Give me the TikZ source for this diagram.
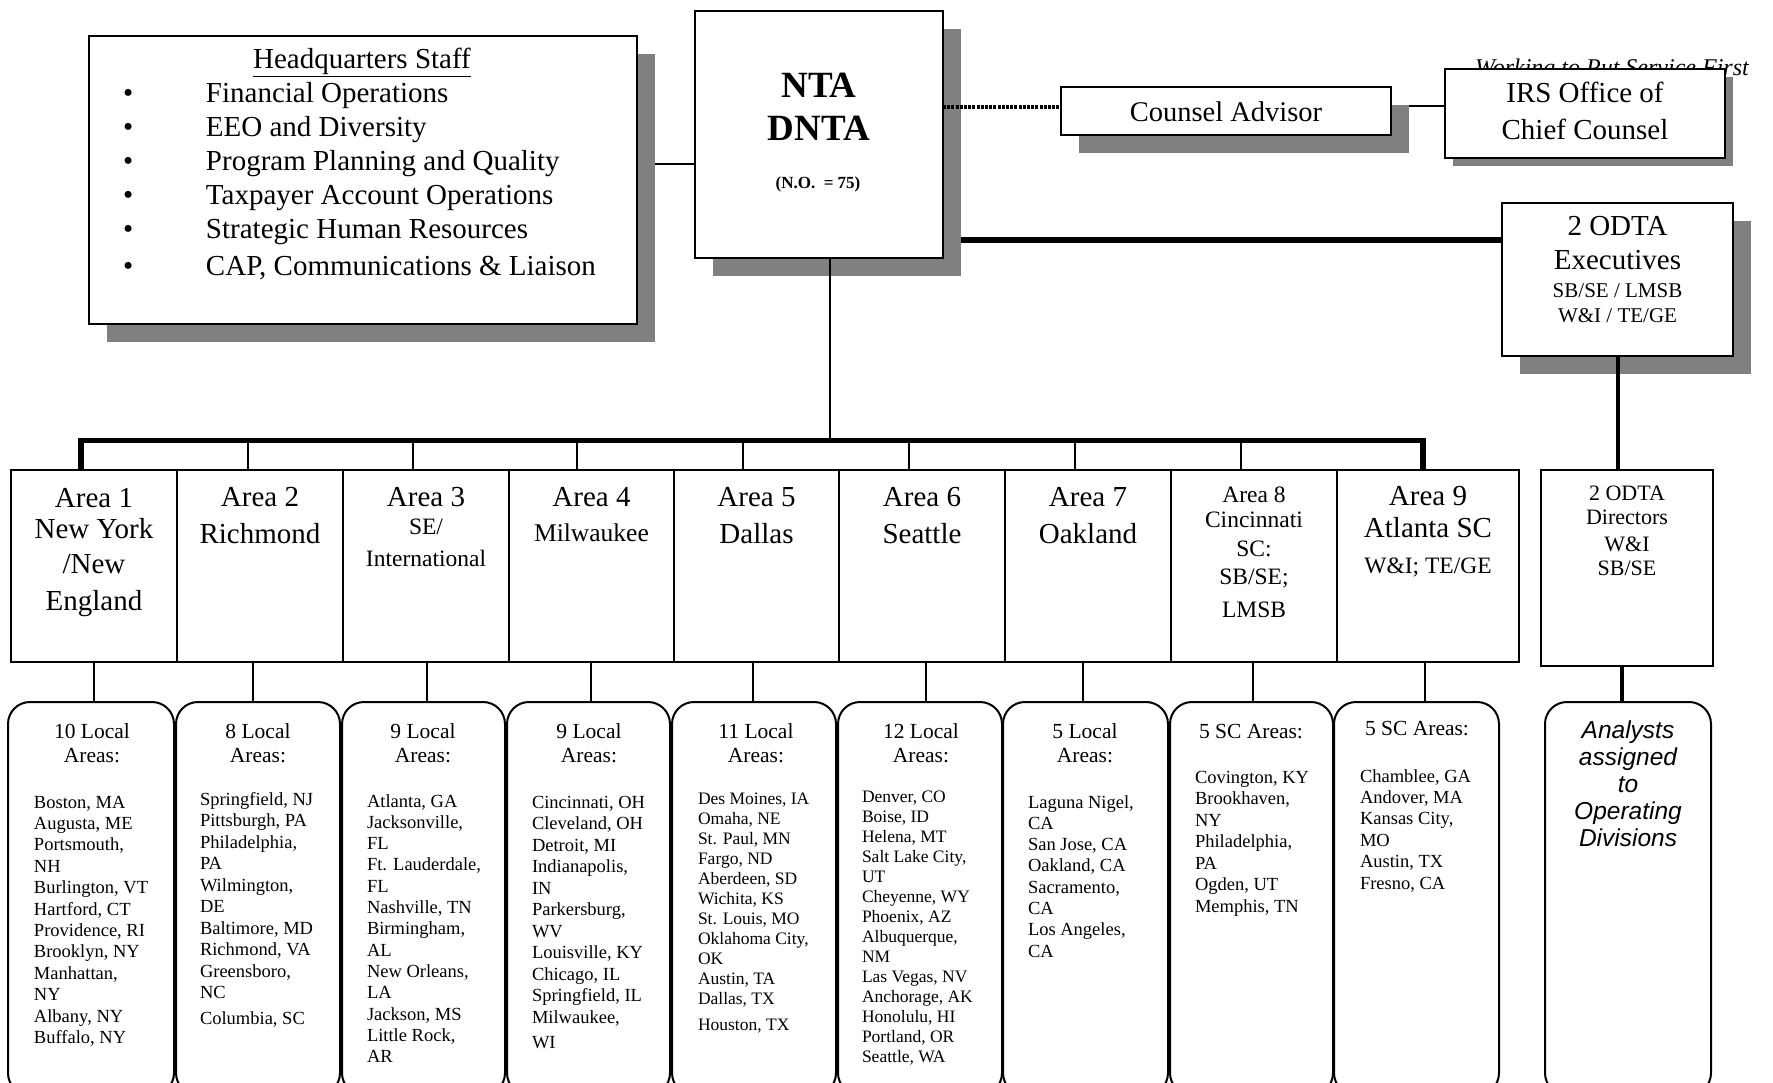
\documentclass[tikz,border=0pt]{standalone}
\usepackage{fontspec}
\setmainfont{Liberation Serif}
\newfontfamily\arialfont{Liberation Sans}
\usetikzlibrary{shadows,backgrounds}
\definecolor{shadowgray}{HTML}{808080}
\newcommand\myfs[2]{\fontsize{#1pt}{#2pt}\selectfont}
\tikzset{
  box/.style={draw=black, line width=2pt, fill=white, inner sep=0pt, outer sep=0pt},
  sbox/.style={box, drop shadow={shadow xshift=18pt, shadow yshift=-18pt, opacity=1, fill=shadowgray}},
  ibox/.style={box, drop shadow={shadow xshift=8pt, shadow yshift=-8pt, opacity=1, fill=shadowgray}},
  areabox/.style={box, minimum height=192pt},
  localbox/.style={box, rounded corners=22pt, minimum height=393pt},
  txt/.style={inner sep=0pt, outer sep=0pt, anchor=base},
  big/.style={font=\myfs{29}{34}},
  mid/.style={font=\myfs{23.5}{32}},
  head/.style={txt, align=center, font=\myfs{21.5}{24}},
  city/.style={txt, anchor=base west, align=left, font=\myfs{18.5}{21.4}},
  citys/.style={txt, anchor=base west, align=left, font=\myfs{17.5}{20}},
  link/.style={line width=2pt},
  heavy/.style={line width=5.5pt},
  bar/.style={line width=4pt},
}
\begin{document}
\begin{tikzpicture}[x=1pt,y=-1pt]
\useasboundingbox (0,0) rectangle (1773,1083);

% motto, partly hidden by the IRS box
\node[txt, anchor=base west, font=\myfs{24}{28}\itshape] (motto) at (1475,76) {Working to Put Service First};

% headquarters staff (multi-line nodes are placed by their last baseline)
\node[sbox, minimum width=548pt, minimum height=288pt] (hq) at (363,180) {};
\node[txt, big] (hqtitle) at (362,69) {\underline{Headquarters Staff}};
\node[txt, anchor=base west, align=left, font=\myfs{29}{34}] (hqlist) at (123,276)
 {\makebox[83pt][l]{\textbullet}Financial Operations\\
  \makebox[83pt][l]{\textbullet}EEO and Diversity\\
  \makebox[83pt][l]{\textbullet}Program Planning and Quality\\
  \makebox[83pt][l]{\textbullet}Taxpayer Account Operations\\
  \makebox[83pt][l]{\textbullet}Strategic Human Resources\\[3pt]
  \makebox[83pt][l]{\textbullet}CAP, Communications \& Liaison};

% NTA
\node[sbox, minimum width=248pt, minimum height=247pt] (nta) at (819,134.5) {};
\node[txt, font=\myfs{37}{43}\bfseries] (ntat) at (819,98) {NTA};
\node[txt, font=\myfs{37}{43}\bfseries] (dntat) at (819,141) {DNTA};
\node[txt, font=\myfs{17}{20}\bfseries] (no) at (818,189) {(N.O.\ \ = 75)};

% counsel
\node[sbox, minimum width=330pt, minimum height=48pt] (counsel) at (1226,111) {};
\node[txt, font=\myfs{28.5}{34}] (counselt) at (1226,122) {Counsel Advisor};

\node[ibox, minimum width=280pt, minimum height=89pt] (irs) at (1585,113.5) {};
\node[txt, align=center, font=\myfs{29}{37}] (irst) at (1585,140) {IRS Office of\\Chief Counsel};

% ODTA executives
\node[sbox, minimum width=231pt, minimum height=153pt] (odtae) at (1617.5,279.5) {};
\node[txt, align=center, font=\myfs{29}{34}] (odtaet) at (1617.5,270) {2 ODTA\\Executives};
\node[txt, align=center, font=\myfs{21}{25}] (odtaes) at (1617.5,323) {SB/SE / LMSB\\W\&I / TE/GE};

% ODTA directors
\node[box, minimum width=172pt, minimum height=196pt] (odtad) at (1627,568) {};
\node[txt, align=center, font=\myfs{22}{24}] (odtadt) at (1627,575) {2 ODTA\\Directors\\[3pt]W\&I\\SB/SE};

% area boxes
\node[areabox, minimum width=166pt] (a1) at (94,566) {};
\node[areabox, minimum width=166pt] (a2) at (260,566) {};
\node[areabox, minimum width=166pt] (a3) at (426,566) {};
\node[areabox, minimum width=165pt] (a4) at (591.5,566) {};
\node[areabox, minimum width=165pt] (a5) at (756.5,566) {};
\node[areabox, minimum width=166pt] (a6) at (922,566) {};
\node[areabox, minimum width=166pt] (a7) at (1088,566) {};
\node[areabox, minimum width=166pt] (a8) at (1254,566) {};
\node[areabox, minimum width=182pt] (a9) at (1428,566) {};

\node[txt, align=center, font=\myfs{29}{31}] (a1t) at (94,610) {Area 1\\New York\\[4pt]/New\\[6pt]England};
\node[txt, big] (a2t) at (260,506) {Area 2};
\node[txt, big] (a2n) at (260,543) {Richmond};
\node[txt, big] (a3t) at (426,506) {Area 3};
\node[txt, align=center, mid] (a3n) at (426,566) {SE/\\International};
\node[txt, big] (a4t) at (591.5,506) {Area 4};
\node[txt, font=\myfs{25.5}{30}] (a4n) at (591.5,541) {Milwaukee};
\node[txt, big] (a5t) at (756.5,506) {Area 5};
\node[txt, big] (a5n) at (756.5,543) {Dallas};
\node[txt, big] (a6t) at (922,506) {Area 6};
\node[txt, big] (a6n) at (922,543) {Seattle};
\node[txt, big] (a7t) at (1088,506) {Area 7};
\node[txt, big] (a7n) at (1088,543) {Oakland};
\node[txt, align=center, font=\myfs{23.5}{25}] (a8t) at (1254,617) {Area 8\\Cincinnati\\[4pt]SC:\\[3pt]SB/SE;\\[8pt]LMSB};
\node[txt, align=center, font=\myfs{29}{32}] (a9t) at (1428,537) {Area 9\\Atlanta SC};
\node[txt, mid] (a9n) at (1428,573) {W\&I; TE/GE};

% local boxes (run past the lower edge)
\begin{scope}
\clip (0,0) rectangle (1773,1083);
\node[localbox, minimum width=166pt] (l1) at (91,898.5) {};
\node[localbox, minimum width=164pt] (l2) at (258,898.5) {};
\node[localbox, minimum width=163pt] (l3) at (423.5,898.5) {};
\node[localbox, minimum width=163pt] (l4) at (588.5,898.5) {};
\node[localbox, minimum width=164pt] (l5) at (754,898.5) {};
\node[localbox, minimum width=164pt] (l6) at (920,898.5) {};
\node[localbox, minimum width=165pt] (l7) at (1085.5,898.5) {};
\node[localbox, minimum width=163pt] (l8) at (1251.5,898.5) {};
\node[localbox, minimum width=165pt] (l9) at (1416.5,898.5) {};
\node[localbox, minimum width=166pt] (an) at (1628,898.5) {};
\end{scope}

\node[head] (l1h) at (92,762) {10 Local\\Areas:};
\node[head] (l2h) at (258,762) {8 Local\\Areas:};
\node[head] (l3h) at (423,762) {9 Local\\Areas:};
\node[head] (l4h) at (589,762) {9 Local\\Areas:};
\node[head] (l5h) at (756,762) {11 Local\\Areas:};
\node[head] (l6h) at (921,762) {12 Local\\Areas:};
\node[head] (l7h) at (1085,762) {5 Local\\Areas:};
\node[head] (l8h) at (1251,738) {5 SC Areas:};
\node[head] (l9h) at (1417,735) {5 SC Areas:};

\node[city] (l1c) at (34,1043.4) {Boston, MA\\Augusta, ME\\Portsmouth,\\NH\\Burlington, VT\\Hartford, CT\\Providence, RI\\Brooklyn, NY\\Manhattan,\\NY\\Albany, NY\\Buffalo, NY};
\node[city, font=\myfs{18.5}{21.5}] (l2c) at (200,1024) {Springfield, NJ\\Pittsburgh, PA\\Philadelphia,\\PA\\Wilmington,\\DE\\Baltimore, MD\\Richmond, VA\\Greensboro,\\NC\\[4pt]Columbia, SC};
\node[city, font=\myfs{18.5}{21.3}] (l3c) at (367,1062.6) {Atlanta, GA\\Jacksonville,\\FL\\Ft. Lauderdale,\\FL\\Nashville, TN\\Birmingham,\\AL\\New Orleans,\\LA\\Jackson, MS\\Little Rock,\\AR};
\node[city, font=\myfs{18.5}{21.5}] (l4c) at (532,1048) {Cincinnati, OH\\Cleveland, OH\\Detroit, MI\\Indianapolis,\\IN\\Parkersburg,\\WV\\Louisville, KY\\Chicago, IL\\Springfield, IL\\Milwaukee,\\[3.5pt]WI};
\node[citys] (l5c) at (698,1030) {Des Moines, IA\\Omaha, NE\\St. Paul, MN\\Fargo, ND\\Aberdeen, SD\\Wichita, KS\\St. Louis, MO\\Oklahoma City,\\OK\\Austin, TA\\Dallas, TX\\[6pt]Houston, TX};
\node[citys] (l6c) at (862,1062) {Denver, CO\\Boise, ID\\Helena, MT\\Salt Lake City,\\UT\\Cheyenne, WY\\Phoenix, AZ\\Albuquerque,\\NM\\Las Vegas, NV\\Anchorage, AK\\Honolulu, HI\\Portland, OR\\Seattle, WA};
\node[city, font=\myfs{18.5}{21.3}] (l7c) at (1028,957.1) {Laguna Nigel,\\CA\\San Jose, CA\\Oakland, CA\\Sacramento,\\CA\\Los Angeles,\\CA};
\node[city, font=\myfs{18.5}{21.5}] (l8c) at (1195,912) {Covington, KY\\Brookhaven,\\NY\\Philadelphia,\\PA\\Ogden, UT\\Memphis, TN};
\node[city, font=\myfs{18.5}{21.4}] (l9c) at (1360,889) {Chamblee, GA\\Andover, MA\\Kansas City,\\MO\\Austin, TX\\Fresno, CA};

\node[txt, align=center, font=\arialfont\itshape\myfs{24.5}{27.2}] (ant) at (1628,846.8) {Analysts\\assigned\\to\\Operating\\Divisions};

% connectors hidden by shadows
\begin{scope}[on background layer]
\draw[link] (hq.east |- 0,164) -- (nta.west |- 0,164);
\draw[line width=6pt] (nta.east |- 0,240) -- (odtae.west |- 0,240);
\draw[link] (counsel.east |- 0,106) -- (irs.west |- 0,106);
\end{scope}

% dotted link to counsel
\draw[line width=4pt, dash pattern=on 3pt off 1.2pt] (nta.east |- 0,107) -- (counsel.west |- 0,107);

% NTA to the bus
\coordinate (busL) at (81,440.5);
\coordinate (busR) at (1423,440.5);
\coordinate (ntadrop) at (830,0);
\draw[link] (ntadrop |- nta.south) -- (ntadrop |- busL);
\draw[heavy, line join=miter] (busL |- a1.north) -- (busL) -- (busR) -- (busR |- a9.north);
\draw[link] (248,440.5) -- (248,0 |- a2.north);
\draw[link] (413,440.5) -- (413,0 |- a3.north);
\draw[link] (577,440.5) -- (577,0 |- a4.north);
\draw[link] (743,440.5) -- (743,0 |- a5.north);
\draw[link] (908.5,440.5) -- (908.5,0 |- a6.north);
\draw[link] (1075,440.5) -- (1075,0 |- a7.north);
\draw[link] (1241,440.5) -- (1241,0 |- a8.north);

% areas to local boxes
\draw[link] (93.5,0 |- a1.south) -- (93.5,0 |- l1.north);
\draw[link] (253,0 |- a2.south) -- (253,0 |- l2.north);
\draw[link] (427,0 |- a3.south) -- (427,0 |- l3.north);
\draw[link] (591,0 |- a4.south) -- (591,0 |- l4.north);
\draw[link] (753,0 |- a5.south) -- (753,0 |- l5.north);
\draw[link] (925.5,0 |- a6.south) -- (925.5,0 |- l6.north);
\draw[link] (1083,0 |- a7.south) -- (1083,0 |- l7.north);
\draw[link] (1253,0 |- a8.south) -- (1253,0 |- l8.north);
\draw[link] (1425,0 |- a9.south) -- (1425,0 |- l9.north);

% ODTA chain
\draw[bar] (odtae.south) -- (odtae.south |- odtad.north);
\draw[bar] (1622,0 |- odtad.south) -- (1622,0 |- an.north);
\end{tikzpicture}
\end{document}
